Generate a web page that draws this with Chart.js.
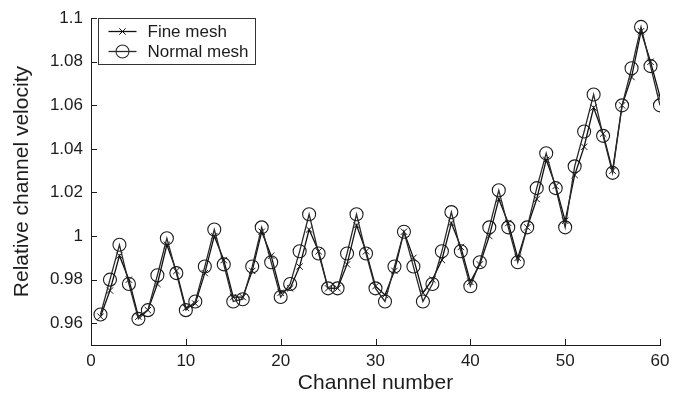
<!DOCTYPE html>
<html>
<head>
<meta charset="utf-8">
<script src="https://cdn.jsdelivr.net/npm/chart.js@4.4.1/dist/chart.umd.min.js"></script>
<style>
  html, body { margin: 0; padding: 0; background: #fff; }
  #wrap { width: 682px; height: 399px; }
</style>
</head>
<body>
<div id="wrap"><canvas id="velocityChart"></canvas></div>
<script>
// channel numbers 1..60
const channels = Array.from({ length: 60 }, (_, i) => i + 1);

const fineMesh = [
  0.963, 0.975, 0.991, 0.980, 0.963, 0.966, 0.978, 0.996, 0.984, 0.967,
  0.969, 0.983, 1.000, 0.989, 0.972, 0.972, 0.984, 1.002, 0.991, 0.974,
  0.976, 0.986, 1.003, 0.993, 0.976, 0.976, 0.987, 1.005, 0.993, 0.977,
  0.973, 0.984, 1.002, 0.990, 0.974, 0.980, 0.989, 1.006, 0.995, 0.979,
  0.987, 1.000, 1.017, 1.006, 0.990, 1.004, 1.017, 1.035, 1.023, 1.007,
  1.028, 1.041, 1.059, 1.047, 1.030, 1.060, 1.073, 1.094, 1.080, 1.064
];

const normalMesh = [
  0.964, 0.980, 0.996, 0.978, 0.962, 0.966, 0.982, 0.999, 0.983, 0.966,
  0.970, 0.986, 1.003, 0.987, 0.970, 0.971, 0.986, 1.004, 0.988, 0.972,
  0.978, 0.993, 1.010, 0.992, 0.976, 0.976, 0.992, 1.010, 0.992, 0.976,
  0.970, 0.986, 1.002, 0.986, 0.970, 0.978, 0.993, 1.011, 0.993, 0.977,
  0.988, 1.004, 1.021, 1.004, 0.988, 1.004, 1.022, 1.038, 1.022, 1.004,
  1.032, 1.048, 1.065, 1.046, 1.029, 1.060, 1.077, 1.096, 1.078, 1.060
];

const xTicks = [0, 10, 20, 30, 40, 50, 60];
const yTicks = [0.96, 0.98, 1, 1.02, 1.04, 1.06, 1.08, 1.1];

const FONT = "'Liberation Sans', Arial, Helvetica, sans-serif";
const INK = '#1c1c1c';

const toPoints = vals => vals.map((v, i) => ({ x: channels[i], y: v }));

// inward tick marks on both axes (matlab style)
const inwardTicks = {
  id: 'inwardTicks',
  afterDraw(chart) {
    const { ctx, chartArea: a, scales: { x, y } } = chart;
    ctx.save();
    ctx.strokeStyle = INK;
    ctx.lineWidth = 1;
    ctx.beginPath();
    xTicks.forEach(v => {
      const px = Math.round(x.getPixelForValue(v)) + 0.5;
      ctx.moveTo(px, a.bottom);
      ctx.lineTo(px, a.bottom - 6);
    });
    yTicks.forEach(v => {
      const py = Math.round(y.getPixelForValue(v)) + 0.5;
      ctx.moveTo(a.left, py);
      ctx.lineTo(a.left + 6, py);
    });
    ctx.stroke();
    ctx.restore();
  }
};

// boxed legend in the upper left corner, line + marker samples
const boxLegend = {
  id: 'boxLegend',
  afterDraw(chart) {
    const { ctx } = chart;
    const box = { x: 98.5, y: 18.5, w: 157, h: 46 };
    const order = [1, 0];  // fine mesh listed first
    ctx.save();
    ctx.fillStyle = '#fff';
    ctx.fillRect(box.x, box.y, box.w, box.h);
    ctx.strokeStyle = '#333';
    ctx.lineWidth = 1;
    ctx.strokeRect(box.x, box.y, box.w, box.h);
    order.forEach((di, row) => {
      const ds = chart.data.datasets[di];
      const cy = box.y + 13 + row * 20;
      ctx.strokeStyle = ds.borderColor;
      ctx.lineWidth = ds.borderWidth;
      ctx.beginPath();
      ctx.moveTo(box.x + 10, cy);
      ctx.lineTo(box.x + 38, cy);
      ctx.stroke();
      ctx.fillStyle = 'rgba(0,0,0,0)';
      ctx.lineWidth = ds.pointBorderWidth;
      Chart.helpers.drawPoint(ctx, {
        pointStyle: ds.pointStyle,
        radius: ds.pointRadius,
        borderWidth: ds.pointBorderWidth,
        rotation: 0
      }, box.x + 24, cy);
      ctx.fillStyle = INK;
      ctx.font = '17px ' + FONT;
      ctx.textBaseline = 'middle';
      ctx.textAlign = 'left';
      ctx.fillText(ds.label, box.x + 49, cy + 1);
    });
    ctx.restore();
  }
};

new Chart(document.getElementById('velocityChart'), {
  type: 'line',
  data: {
    datasets: [{
      label: 'Normal mesh',
      data: toPoints(normalMesh),
      borderColor: '#2a2a2a',
      borderWidth: 1.3,
      pointStyle: 'circle',
      pointRadius: 6.5,
      pointBorderWidth: 1.1,
      pointBorderColor: '#1a1a1a',
      pointBackgroundColor: 'rgba(0,0,0,0)',
      tension: 0
    }, {
      label: 'Fine mesh',
      data: toPoints(fineMesh),
      borderColor: '#111',
      borderWidth: 1.3,
      pointStyle: 'crossRot',
      pointRadius: 4.5,
      pointBorderWidth: 1,
      pointBorderColor: '#111',
      tension: 0
    }]
  },
  options: {
    responsive: true,
    maintainAspectRatio: false,
    animation: false,
    events: [],
    layout: { padding: { top: 17, right: 22, left: 0, bottom: 0 } },
    plugins: {
      legend: { display: false },
      tooltip: { enabled: false }
    },
    scales: {
      x: {
        type: 'linear',
        min: 0,
        max: 60,
        afterFit: s => { s.height = 54; },
        afterBuildTicks: s => { s.ticks = xTicks.map(v => ({ value: v })); },
        grid: { display: false, drawTicks: false },
        border: { display: true, color: INK, width: 1 },
        ticks: {
          padding: 6,
          color: INK,
          maxRotation: 0,
          font: { family: FONT, size: 17 }
        },
        title: {
          display: true,
          text: 'Channel number',
          color: INK,
          padding: { top: 0, bottom: 3 },
          font: { family: FONT, size: 21 }
        }
      },
      y: {
        min: 0.95,
        max: 1.1,
        afterFit: s => { s.width = 91; },
        afterBuildTicks: s => { s.ticks = yTicks.map(v => ({ value: v })); },
        grid: { display: false, drawTicks: false },
        border: { display: true, color: INK, width: 1 },
        ticks: {
          padding: 8,
          color: INK,
          font: { family: FONT, size: 17 },
          callback: v => String(parseFloat(v.toFixed(2)))
        },
        title: {
          display: true,
          text: 'Relative channel velocity',
          color: INK,
          padding: { top: 10, bottom: 0 },
          font: { family: FONT, size: 21 }
        }
      }
    }
  },
  plugins: [inwardTicks, boxLegend]
});
</script>
</body>
</html>
